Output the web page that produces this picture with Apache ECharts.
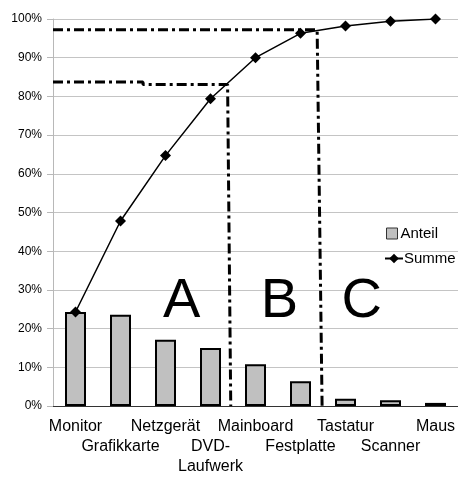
<!DOCTYPE html>
<html><head><meta charset="utf-8">
<script src="https://cdn.jsdelivr.net/npm/echarts@6/dist/echarts.min.js"></script>
<style>html,body{margin:0;padding:0;background:#fff}#c{width:458px;height:477px}</style>
</head><body><div id="c"></div>
<script>
const categories = ['Monitor','Grafikkarte','Netzgerät','DVD-Laufwerk','Mainboard','Festplatte','Tastatur','Scanner','Maus'];
const anteil = [24.3, 23.6, 17.1, 15.0, 10.8, 6.4, 1.9, 1.5, 0.8];
const summe = [24.3, 47.8, 64.7, 79.4, 90.0, 96.3, 98.2, 99.4, 100];
const boundaryAB = [[-0.5, 83.7], [1.5, 83.7], [1.5, 83.1], [3.38, 83.1], [3.45, 0]];
const boundaryBC = [[-0.5, 97.2], [5.37, 97.2], [5.48, 0]];
const zoneNames = ['A', 'B', 'C'];
const zoneX = [2.36, 4.53, 6.36];
const zoneY = [27.0, 27.0, 27.0];

const FONT = 'Liberation Sans';
const chart = echarts.init(document.getElementById('c'), null, {renderer: 'canvas'});
const dashDot = {color: '#000', width: 3, type: [10, 4, 3, 4]};
chart.setOption({
  animation: false,
  textStyle: {fontFamily: FONT},
  grid: {left: 53, top: 19, width: 407, height: 390},
  legend: [
    {data: [{name: 'Anteil', icon: 'rect'}], orient: 'vertical', left: 381, top: 221, itemWidth: 11, itemHeight: 11,
     textStyle: {fontFamily: FONT, fontSize: 15, color: '#000', padding: [0, 0, 0, -2]},
     itemStyle: {borderColor: '#333', borderWidth: 1}},
    {data: ['Summe'], orient: 'vertical', left: 379, top: 246, itemWidth: 18, itemHeight: 12,
     textStyle: {fontFamily: FONT, fontSize: 15, color: '#000', padding: [0, 0, 0, -4]}}
  ],
  xAxis: [
    {type: 'category', data: categories, boundaryGap: true,
     axisLine: {lineStyle: {color: '#333', width: 1}},
     axisTick: {alignWithLabel: true, length: 5, lineStyle: {color: '#333'}},
     axisLabel: {interval: 0, margin: 11, fontFamily: FONT, fontSize: 16, color: '#000', lineHeight: 20,
       formatter: (v, i) => {
         const t = v.replace('DVD-Laufwerk', 'DVD-\nLaufwerk');
         return i % 2 ? '\n' + t : t;
       }},
     splitLine: {show: false}},
    {type: 'value', min: -0.5, max: 8.5, show: false}
  ],
  yAxis: {type: 'value', min: 0, max: 100, interval: 10,
    axisLine: {show: true, onZero: false, lineStyle: {color: '#b8b8b8'}},
    axisTick: {show: true, length: 6, lineStyle: {color: '#b8b8b8'}},
    axisLabel: {margin: 11, fontFamily: FONT, fontSize: 12, color: '#000', formatter: '{value}%'},
    splitLine: {lineStyle: {color: '#c4c4c4', width: 1}}},
  series: [
    {name: 'Anteil', type: 'bar', data: anteil, barWidth: 21,
     itemStyle: {color: '#c0c0c0', borderColor: '#000', borderWidth: 2}, z: 2},
    {name: 'Summe', type: 'line', data: summe, symbol: 'diamond', symbolSize: 11,
     lineStyle: {color: '#000', width: 1.5}, itemStyle: {color: '#000'}, z: 5},
    {name: 'AB', type: 'line', xAxisIndex: 1, data: boundaryAB, symbol: 'none', lineStyle: dashDot, z: 4},
    {name: 'BC', type: 'line', xAxisIndex: 1, data: boundaryBC, symbol: 'none', lineStyle: dashDot, z: 4},
    {name: 'Zonen', type: 'scatter', xAxisIndex: 1, symbolSize: 1, itemStyle: {color: 'rgba(0,0,0,0)', opacity: 1},
     data: zoneNames.map((n, i) => ({name: n, value: [zoneX[i], zoneY[i]]})),
     label: {show: true, position: 'inside', formatter: p => p.name, fontFamily: FONT, fontSize: 56,
       color: '#000', opacity: 1, textBorderWidth: 0}, z: 6}
  ]
});
</script></body></html>
